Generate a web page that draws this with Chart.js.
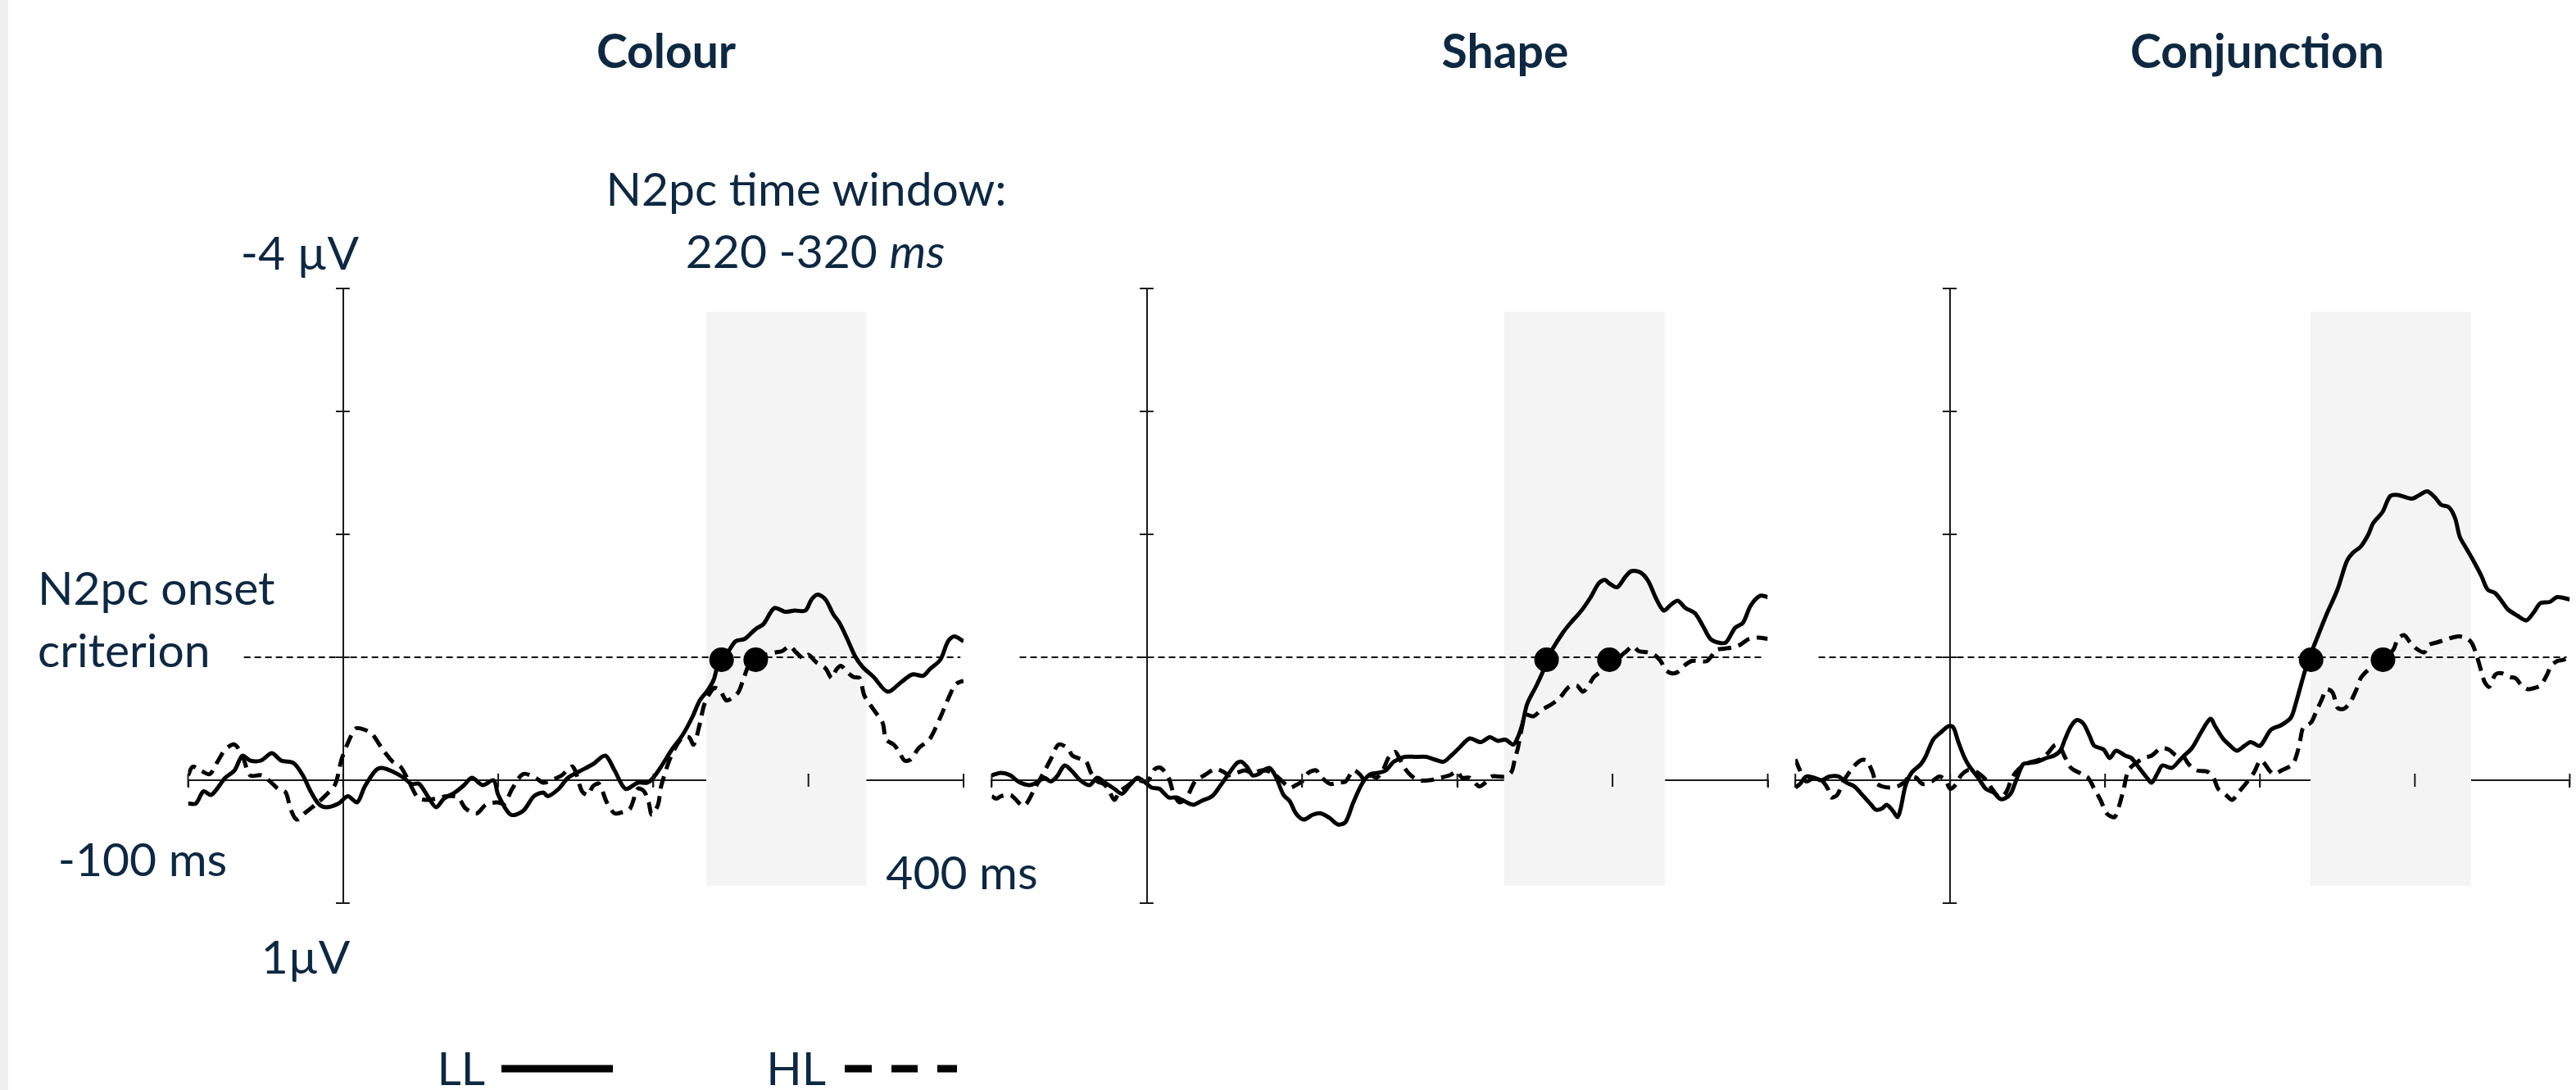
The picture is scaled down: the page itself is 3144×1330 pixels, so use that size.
<!DOCTYPE html>
<html>
<head>
<meta charset="utf-8">
<title>N2pc onset</title>
<script src="https://cdn.jsdelivr.net/npm/chart.js@4.4.1/dist/chart.umd.min.js"></script>
<style>
  html, body { margin: 0; padding: 0; background: #fff; }
  #page { position: relative; width: 3144px; height: 1330px; overflow: hidden;
          font-family: Lato, "Open Sans", sans-serif; color: #0e2841; }
  #strip { position: absolute; left: 0; top: 0; width: 10px; height: 1330px; background: #efefef; }
  canvas { position: absolute; top: 0; }
  .lbl { position: absolute; font-size: 57px; line-height: 57px; white-space: nowrap; }
  .c { transform: translateX(-50%); }
  .r { transform: translateX(-100%); }
  .b { font-weight: 700; }
  #legend { position: absolute; left: 600px; top: 1290px; }
</style>
</head>
<body>
<div id="page">
  <div id="strip"></div>
  <canvas id="colour" width="1000" height="1330" style="left:190px"></canvas>
  <canvas id="shape" width="980" height="1330" style="left:1190px"></canvas>
  <canvas id="conj" width="974" height="1330" style="left:2170px"></canvas>

  <div class="lbl c b" style="left:813px; top:33px">Colour</div>
  <div class="lbl c b" style="left:1837px; top:33px">Shape</div>
  <div class="lbl c b" style="left:2755px; top:33px">Conjunction</div>

  <div class="lbl c" style="left:984px; top:201px">N2pc time window:</div>
  <div class="lbl c" style="left:995px; top:277px">220 -320 <i>ms</i></div>
  <div class="lbl c" style="left:366px; top:279px">-4 µV</div>
  <div class="lbl" style="left:46px; top:688px">N2pc onset</div>
  <div class="lbl" style="left:46px; top:764px">criterion</div>
  <div class="lbl c" style="left:174px; top:1019px">-100 ms</div>
  <div class="lbl c" style="left:1174px; top:1035px">400 ms</div>
  <div class="lbl c" style="left:373px; top:1138px">1µV</div>
  <div class="lbl r" style="left:592px; top:1274px">LL</div>
  <div class="lbl r" style="left:1008px; top:1274px">HL</div>

  <svg id="legend" width="600" height="30">
    <line x1="12" y1="14" x2="148" y2="14" stroke="#000" stroke-width="9"/>
    <line x1="431" y1="14" x2="464" y2="14" stroke="#000" stroke-width="9"/>
    <line x1="488" y1="14" x2="520" y2="14" stroke="#000" stroke-width="9"/>
    <line x1="544" y1="14" x2="568" y2="14" stroke="#000" stroke-width="9"/>
  </svg>
</div>

<script>
// time (ms) and amplitude (µV, negative up)

// Colour
const colourLL_t = [-100,-95,-90,-85,-76,-70,-65,-60,-53,-46,-40,-32,-26,-21,-16,-11,-3,3,9,14,
  21,25,32,39,44,49,55,60,65,72,78,83,90,97,100,108,116,123,129,132,139,145,152,161,169,175,182,190,196,200,
  205,212,219,225,230,235,239,242,248,253,259,266,271,278,285,291,298,302,306,311,316,320,325,330,335,342,351,360,367,374,
  378,385,390,394,400];
const colourLL_v = [0.19,0.19,0.09,0.12,-0.02,-0.08,-0.2,-0.16,-0.16,-0.22,-0.16,-0.14,-0.04,0.09,0.19,0.22,0.19,0.13,0.18,0.05,
  -0.08,-0.1,-0.07,-0.02,0.03,0.03,0.14,0.22,0.15,0.1,0.04,-0.02,0.04,0,0.12,0.28,0.25,0.13,0.1,0.13,0.07,-0.02,-0.07,-0.13,-0.2,-0.08,0.07,0.02,0.02,-0.02,
  -0.11,-0.25,-0.37,-0.51,-0.65,-0.73,-0.82,-0.95,-1.04,-1.13,-1.15,-1.23,-1.27,-1.4,-1.37,-1.38,-1.38,-1.47,-1.51,-1.47,-1.35,-1.28,-1.15,-1.01,-0.92,-0.84,-0.72,-0.8,-0.86,-0.85,
  -0.9,-0.98,-1.13,-1.17,-1.13];
const colourHL_t = [-100,-97,-92,-86,-81,-76,-70,-65,-60,-53,-48,-42,-37,-34,-30,-25,-18,-11,-5,-1,
  4,8,14,19,25,32,37,42,48,53,60,67,74,79,86,92,99,104,109,116,124,129,136,141,148,
  154,158,161,165,170,175,180,185,190,194,197,199,203,205,210,214,219,223,226,230,233,239,243,247,251,255,258,262,266,
  272,279,283,288,292,297,300,305,311,315,318,321,325,329,333,336,340,344,348,350,355,358,362,366,371,376,379,385,390,395,400];
const colourHL_v = [-0.04,-0.11,-0.08,-0.05,-0.15,-0.25,-0.29,-0.2,-0.04,-0.04,0,0.07,0.1,0.23,0.32,0.27,0.2,0.12,0.03,-0.17,
  -0.33,-0.42,-0.41,-0.37,-0.26,-0.15,-0.11,0,0.14,0.16,0.15,0.13,0.14,0.23,0.27,0.2,0.18,0.19,0.07,-0.05,-0.02,0.02,-0.01,-0.04,-0.11,
  0.09,0.12,0.05,0.03,0.18,0.27,0.26,0.23,0.07,0.09,0.18,0.28,0.2,0.05,-0.15,-0.26,-0.35,-0.35,-0.29,-0.46,-0.62,-0.75,-0.73,-0.65,-0.67,-0.72,-0.82,-0.95,-0.99,
  -1.02,-1.04,-1.05,-1.09,-1.04,-0.99,-1.02,-0.96,-0.91,-0.83,-0.9,-0.93,-0.88,-0.84,-0.83,-0.69,-0.61,-0.54,-0.46,-0.33,-0.29,-0.24,-0.16,-0.17,-0.26,-0.31,-0.35,-0.51,-0.66,-0.78,-0.81];

// Shape
const shapeLL_t = [-100,-94,-88,-83,-76,-71,-66,-62,-58,-53,-48,-43,-37,-32,-27,-21,-16,-11,-6,-1,
  3,8,14,19,24,30,35,42,47,52,58,61,65,68,72,75,79,83,88,92,96,101,107,112,118,123,128,133,139,144,149,
  154,159,166,173,180,185,191,196,201,208,215,221,226,231,236,239,242,245,251,255,258,261,268,273,280,286,291,295,298,303,
  308,312,318,323,328,333,337,342,347,353,358,363,368,373,379,384,389,395,400];
const shapeLL_v = [-0.04,-0.06,-0.04,0.01,0.04,0.02,-0.02,0.01,-0.03,-0.12,-0.07,0,0.04,-0.02,0.02,0.07,0.11,0.04,-0.02,0.02,
  0.06,0.07,0.14,0.14,0.17,0.2,0.17,0.13,0.05,-0.04,-0.14,-0.15,-0.1,-0.04,-0.05,-0.08,-0.1,-0.03,0.12,0.17,0.27,0.32,0.28,0.27,0.31,0.36,0.34,0.18,0.02,-0.05,-0.06,
  -0.08,-0.15,-0.19,-0.19,-0.19,-0.17,-0.15,-0.2,-0.26,-0.34,-0.31,-0.35,-0.32,-0.33,-0.29,-0.35,-0.46,-0.62,-0.77,-0.88,-0.98,-1.06,-1.2,-1.28,-1.38,-1.49,-1.6,-1.63,-1.6,-1.57,
  -1.65,-1.7,-1.69,-1.62,-1.48,-1.38,-1.42,-1.46,-1.4,-1.36,-1.26,-1.15,-1.12,-1.12,-1.24,-1.28,-1.42,-1.5,-1.49];
const shapeHL_t = [-100,-97,-94,-88,-85,-80,-77,-72,-67,-62,-57,-51,-48,-42,-39,-36,-32,-28,-25,-21,
  -18,-13,-7,-2,1,5,9,14,17,21,26,31,37,44,49,53,58,63,68,74,81,92,96,100,104,109,112,118,123,128,133,137,141,144,148,
  152,156,160,163,166,170,175,182,189,195,200,203,208,214,218,222,227,231,235,237,239,241,244,249,254,261,266,272,277,281,285,288,293,298,
  303,309,313,317,323,327,331,334,338,342,346,351,356,361,367,372,377,382,388,394,400];
const shapeHL_v = [0.13,0.15,0.13,0.12,0.15,0.21,0.18,0.06,-0.05,-0.17,-0.29,-0.26,-0.2,-0.17,-0.15,-0.06,0.01,0.03,0.07,0.16,
  0.1,0.05,0,0.01,0,-0.09,-0.1,-0.02,0.1,0.18,0.13,0.01,-0.04,-0.09,-0.07,-0.04,-0.06,-0.08,-0.06,-0.08,-0.06,0.06,0.04,0.01,-0.06,-0.08,-0.03,0.03,0.02,0.01,-0.08,-0.05,0.01,-0.04,-0.02,
  -0.08,-0.19,-0.23,-0.17,-0.1,-0.04,0,0,-0.02,-0.04,-0.07,-0.02,-0.02,0.05,0.02,-0.03,-0.03,-0.03,-0.07,-0.17,-0.26,-0.39,-0.53,-0.52,-0.57,-0.62,-0.67,-0.76,-0.77,-0.72,-0.78,-0.84,-0.89,-0.97,
  -0.99,-1.05,-1.09,-1.05,-1.04,-1.02,-0.97,-0.9,-0.87,-0.88,-0.93,-0.97,-0.97,-0.97,-1.06,-1.07,-1.08,-1.1,-1.15,-1.16,-1.15];

// Conjunction
const conjLL_t = [-100,-97,-93,-88,-83,-78,-72,-67,-62,-56,-51,-48,-44,-41,-37,-34,-32,-29,-25,-19,
  -16,-11,-6,-1,2,5,9,12,18,23,28,32,35,39,42,47,51,56,62,67,71,74,78,82,86,90,93,99,103,107,113,117,122,127,130,134,137,143,148,151,
  156,162,168,171,176,180,185,190,194,200,207,214,220,223,227,231,236,243,250,256,260,265,270,273,279,284,289,298,303,308,
  313,317,322,326,329,333,338,343,347,352,357,360,366,372,377,381,387,392,400];
const conjLL_v = [0.06,0.03,-0.03,-0.02,0,-0.03,-0.03,0.02,0.05,0.13,0.2,0.24,0.23,0.2,0.25,0.3,0.23,0.05,-0.06,-0.13,
  -0.19,-0.33,-0.39,-0.44,-0.43,-0.32,-0.19,-0.12,-0.02,0.07,0.1,0.15,0.15,0.11,0.02,-0.13,-0.14,-0.15,-0.18,-0.2,-0.24,-0.33,-0.44,-0.49,-0.46,-0.36,-0.28,-0.25,-0.18,-0.24,-0.2,-0.18,-0.1,-0.02,0.02,-0.06,-0.12,-0.1,-0.16,-0.2,
  -0.26,-0.39,-0.5,-0.44,-0.34,-0.29,-0.24,-0.28,-0.31,-0.28,-0.41,-0.45,-0.51,-0.62,-0.8,-0.97,-1.13,-1.35,-1.55,-1.78,-1.85,-1.9,-2.0,-2.09,-2.18,-2.31,-2.32,-2.29,-2.32,-2.35,
  -2.3,-2.24,-2.22,-2.13,-1.98,-1.89,-1.78,-1.66,-1.55,-1.52,-1.44,-1.39,-1.34,-1.3,-1.37,-1.44,-1.45,-1.49,-1.47];
const conjHL_t = [-100,-97,-93,-88,-83,-79,-77,-73,-69,-63,-58,-54,-50,-48,-44,-39,-34,-30,-26,-22,
  -18,-12,-7,-3,0,4,7,11,15,19,24,27,32,36,39,42,48,53,58,63,67,70,74,78,85,89,93,97,101,106,109,112,115,120,125,130,136,141,146,150,
  154,159,166,170,173,178,182,186,192,196,200,202,206,209,214,221,224,226,228,233,236,240,243,247,250,254,258,262,265,270,275,279,
  286,289,293,297,301,306,309,314,319,324,329,334,337,340,343,345,348,352,356,361,365,369,373,377,381,385,388,392,396,400];
const conjHL_v = [-0.17,-0.08,0.01,-0.02,0,0.07,0.14,0.12,0.01,-0.1,-0.16,-0.16,-0.06,0.02,0.05,0.06,0.05,0.02,-0.03,-0.02,
  0.03,0.01,-0.03,0,0.07,0.03,-0.04,-0.08,-0.08,-0.05,0.01,0.07,0.14,0.1,0.01,-0.06,-0.13,-0.15,-0.17,-0.22,-0.28,-0.29,-0.19,-0.1,-0.05,-0.02,0.07,0.16,0.27,0.3,0.21,0.07,-0.08,-0.14,-0.18,-0.2,-0.26,-0.25,-0.2,-0.2,
  -0.13,-0.08,-0.07,-0.02,0.07,0.12,0.16,0.1,0.01,-0.06,-0.16,-0.15,-0.08,-0.05,-0.08,-0.13,-0.22,-0.33,-0.43,-0.47,-0.55,-0.66,-0.74,-0.71,-0.59,-0.58,-0.63,-0.73,-0.83,-0.9,-0.94,-0.98,
  -1.06,-1.15,-1.18,-1.12,-1.07,-1.04,-1.1,-1.12,-1.14,-1.16,-1.17,-1.15,-1.11,-1.01,-0.88,-0.8,-0.76,-0.86,-0.87,-0.84,-0.83,-0.77,-0.74,-0.75,-0.77,-0.85,-0.93,-0.97,-0.98,-1.01];

// onset latencies (LL, HL) in ms, marked on the criterion
const colourOnsets = [244, 266];
const shapeOnsets = [257.5, 298];
const conjOnsets = [233, 279.4];
const onsetLevel = -0.98;

// N2pc onset criterion and its drawn extent (ms)
const criterion = -1;
const colourCrit = [-64, 398];
const shapeCrit = [-82, 396];
const conjCrit = [-85, 398];

// shaded N2pc window as drawn (ms) and its vertical extent (µV)
const colourWin = [234, 337.5];
const shapeWin = [230, 334];
const conjWin = [232.5, 336.3];
const winTop = -3.81;
const winBottom = 0.86;

const xTicks = [-100, 0, 100, 200, 300, 400];
const yTicks = [-4, -3, -2, -1, 0, 1];

function pts(t, v) {
    return t.map((x, i) => ({ x: x, y: v[i] }));
}

// tick marks crossing both sides of each axis
const crossTicks = {
    id: 'crossTicks',
    afterDraw(chart) {
        const ctx = chart.ctx;
        const xs = chart.scales.x, ys = chart.scales.y;
        const x0 = xs.getPixelForValue(0), y0 = ys.getPixelForValue(0);
        ctx.save();
        ctx.strokeStyle = '#1a1a1a';
        ctx.lineWidth = 2;
        ctx.beginPath();
        xTicks.forEach(v => {
            const px = xs.getPixelForValue(v);
            ctx.moveTo(px, y0 - 8);
            ctx.lineTo(px, y0 + 8);
        });
        yTicks.forEach(v => {
            const py = ys.getPixelForValue(v);
            ctx.moveTo(x0 - 8, py);
            ctx.lineTo(x0 + 8, py);
        });
        ctx.stroke();
        ctx.restore();
    }
};

function panel(id, ll_t, ll_v, hl_t, hl_v, onsets, crit, win, padL, padR) {
    const ctx = document.getElementById(id).getContext('2d');
    return new Chart(ctx, {
        type: 'line',
        data: {
            datasets: [
                {
                    label: 'window',
                    data: [{ x: win[0], y: winTop }, { x: win[1], y: winTop }],
                    borderWidth: 0,
                    pointRadius: 0,
                    backgroundColor: '#f4f4f4',
                    fill: { value: winBottom },
                    order: 5
                },
                {
                    label: 'criterion',
                    data: [{ x: crit[0], y: criterion }, { x: crit[1], y: criterion }],
                    borderColor: '#000',
                    borderWidth: 2,
                    borderDash: [8, 5],
                    pointRadius: 0,
                    order: 3
                },
                {
                    label: 'HL',
                    data: pts(hl_t, hl_v),
                    borderColor: '#000',
                    borderWidth: 5,
                    borderDash: [16, 9],
                    borderJoinStyle: 'round',
                    pointRadius: 0,
                    tension: 0.3,
                    order: 2
                },
                {
                    label: 'LL',
                    data: pts(ll_t, ll_v),
                    borderColor: '#000',
                    borderWidth: 5,
                    borderJoinStyle: 'round',
                    pointRadius: 0,
                    tension: 0.3,
                    order: 1
                },
                {
                    label: 'onset',
                    data: onsets.map(o => ({ x: o, y: onsetLevel })),
                    showLine: false,
                    pointRadius: 15,
                    pointBorderWidth: 0,
                    pointBackgroundColor: '#000',
                    order: 0
                }
            ]
        },
        options: {
            responsive: false,
            animation: false,
            devicePixelRatio: 1,
            events: [],
            layout: { autoPadding: false, padding: { left: padL, right: padR, top: 352, bottom: 228 } },
            plugins: { legend: { display: false }, title: { display: false }, tooltip: { enabled: false } },
            scales: {
                x: {
                    type: 'linear', min: -100, max: 400,
                    position: { y: 0 },
                    afterFit: s => { s.height = 0; },
                    ticks: { display: false, stepSize: 100 },
                    grid: { drawOnChartArea: false, color: '#1a1a1a', lineWidth: 2, tickLength: 8 },
                    border: { color: '#1a1a1a', width: 2 }
                },
                y: {
                    type: 'linear', min: -4, max: 1, reverse: true,
                    position: { x: 0 },
                    afterFit: s => { s.width = 0; },
                    ticks: { display: false, stepSize: 1 },
                    grid: { drawOnChartArea: false, color: '#1a1a1a', lineWidth: 2, tickLength: 8 },
                    border: { color: '#1a1a1a', width: 2 }
                }
            }
        },
        plugins: [crossTicks]
    });
}

panel('colour', colourLL_t, colourLL_v, colourHL_t, colourHL_v, colourOnsets, colourCrit, colourWin, 39.5, 14);
panel('shape', shapeLL_t, shapeLL_v, shapeHL_t, shapeHL_v, shapeOnsets, shapeCrit, shapeWin, 20.4, 12.5);
panel('conj', conjLL_t, conjLL_v, conjHL_t, conjHL_v, conjOnsets, conjCrit, conjWin, 21.2, 7.6);
</script>
</body>
</html>
